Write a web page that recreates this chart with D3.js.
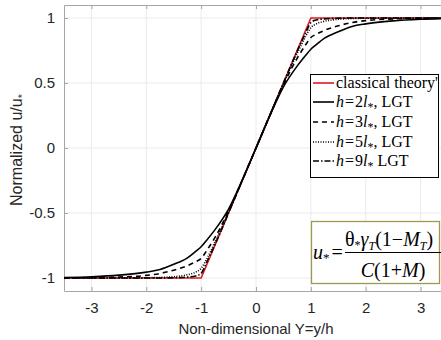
<!DOCTYPE html>
<html>
<head>
<meta charset="utf-8">
<script src="https://cdn.jsdelivr.net/npm/d3@7"></script>
<style>
  body { margin: 0; background: #fff; }
  svg { display: block; }
</style>
</head>
<body>
<div id="chart"></div>
<script>
// values
var Yvals = [-3.5,-3,-2.5,-2,-1.75,-1.5,-1.25,-1.1,-1,-0.9,-0.75,-0.5,-0.25,0,0.25,0.5,0.75,0.9,1,1.1,1.25,1.5,1.75,2,2.5,3,3.5];
var h2 = [-0.996,-0.99,-0.978,-0.955,-0.935,-0.895,-0.845,-0.795,-0.76,-0.71,-0.63,-0.47,-0.245,0,0.245,0.47,0.63,0.71,0.76,0.795,0.845,0.895,0.935,0.955,0.978,0.99,0.996];
var h3 = [-1,-0.998,-0.993,-0.98,-0.965,-0.94,-0.905,-0.875,-0.85,-0.79,-0.69,-0.485,-0.248,0,0.248,0.485,0.69,0.79,0.85,0.875,0.905,0.94,0.965,0.98,0.993,0.998,1];
var h5 = [-1,-1,-1,-0.998,-0.996,-0.99,-0.975,-0.955,-0.925,-0.855,-0.725,-0.495,-0.25,0,0.25,0.495,0.725,0.855,0.925,0.955,0.975,0.99,0.996,0.998,1,1,1];
var h9 = [-1,-1,-1,-1,-1,-0.998,-0.993,-0.985,-0.965,-0.88,-0.745,-0.5,-0.25,0,0.25,0.5,0.745,0.88,0.965,0.985,0.993,0.998,1,1,1,1,1];
var classicalY = [-3.5,-1,1,3.5];
var classicalU = [-1,-1,1,1];
var xTicks = [-3,-2,-1,0,1,2,3];
var yTicks = [-1,-0.5,0,0.5,1];

var W = 441, H = 340;
var mLeft = 64, mRight = 448, mTop = 5, mBottom = 291;

var svg = d3.select("#chart").append("svg")
            .attr("width", W)
            .attr("height", H);

var x = d3.scaleLinear().domain([-3.5, 3.5]).range([mLeft, mRight]);
var y = d3.scaleLinear().domain([-1.1, 1.1]).range([mBottom, mTop]);

// grid
svg.append("g").selectAll("line").data(xTicks).enter().append("line")
   .attr("x1", function(d) { return x(d); }).attr("x2", function(d) { return x(d); })
   .attr("y1", mTop).attr("y2", mBottom)
   .attr("stroke", "#ebebeb").attr("stroke-width", 1);
svg.append("g").selectAll("line").data(yTicks).enter().append("line")
   .attr("x1", mLeft).attr("x2", mRight)
   .attr("y1", function(d) { return y(d); }).attr("y2", function(d) { return y(d); })
   .attr("stroke", "#ebebeb").attr("stroke-width", 1);

// axes (ticks inside, like matlab)
var axisColor = "#a6a6a6";
var fmt = function(d) { return String(d); };
var xAxis = svg.append("g")
   .attr("transform", "translate(0," + mBottom + ")")
   .call(d3.axisBottom(x).tickValues(xTicks).tickSizeInner(-4).tickSizeOuter(0).tickPadding(11).tickFormat(fmt));
var xTop = svg.append("g")
   .attr("transform", "translate(0," + mTop + ")")
   .call(d3.axisTop(x).tickValues(xTicks).tickSizeInner(-4).tickSizeOuter(0).tickFormat(""));
var yAxis = svg.append("g")
   .attr("transform", "translate(" + mLeft + ",0)")
   .call(d3.axisLeft(y).tickValues(yTicks).tickSizeInner(-4).tickSizeOuter(0).tickPadding(9).tickFormat(fmt));

[xAxis, xTop, yAxis].forEach(function(g) {
  g.select(".domain").attr("stroke", axisColor);
  g.selectAll(".tick line").attr("stroke", axisColor);
  g.selectAll(".tick text")
   .attr("fill", "#262626")
   .style("font-family", "Liberation Sans, Arial, sans-serif")
   .style("font-size", "15px");
});

// axis labels
svg.append("text")
   .attr("x", 256).attr("y", 334)
   .style("text-anchor", "middle")
   .style("font-family", "Liberation Sans, Arial, sans-serif")
   .style("font-size", "15px")
   .attr("fill", "#262626")
   .text("Non-dimensional Y=y/h");

var yl = svg.append("text")
   .attr("transform", "translate(22,150) rotate(-90)")
   .style("text-anchor", "middle")
   .style("font-family", "Liberation Sans, Arial, sans-serif")
   .style("font-size", "16px")
   .attr("fill", "#262626");
yl.append("tspan").text("Normalized u/u");
yl.append("tspan").attr("dy", 4).style("font-size", "11px").text("*");

// curves
svg.append("clipPath").attr("id", "plotclip")
   .append("rect").attr("x", mLeft).attr("y", mTop)
   .attr("width", mRight - mLeft).attr("height", mBottom - mTop);

var plot = svg.append("g").attr("clip-path", "url(#plotclip)");

var series = [
  {name: "classical", xs: classicalY, ys: classicalU, color: "#e01a22", dash: null, curve: d3.curveLinear},
  {name: "h2", xs: Yvals, ys: h2, color: "#000", dash: null},
  {name: "h3", xs: Yvals, ys: h3, color: "#000", dash: "5,4"},
  {name: "h5", xs: Yvals, ys: h5, color: "#000", dash: "1,1.5"},
  {name: "h9", xs: Yvals, ys: h9, color: "#000", dash: "6,2,1.5,2"}
];

series.forEach(function(s) {
  var pts = s.xs.map(function(v, i) { return [v, s.ys[i]]; });
  var ln = d3.line().curve(s.curve || d3.curveMonotoneX)
     .x(function(d) { return x(d[0]); })
     .y(function(d) { return y(d[1]); });
  plot.append("path")
     .datum(pts)
     .attr("d", ln)
     .attr("fill", "none")
     .attr("stroke", s.color)
     .attr("stroke-width", 1.6)
     .attr("stroke-dasharray", s.dash);
});

// legend
var serif = "Liberation Serif, Times New Roman, serif";
var leg = svg.append("g");
leg.append("rect")
   .attr("x", 310.5).attr("y", 74.5).attr("width", 128).attr("height", 103)
   .attr("fill", "#fff").attr("stroke", "#000").attr("stroke-width", 1);

var legRows = [
  {y: 83, color: "#e01a22", dash: null, label: "classical"},
  {y: 102, color: "#000", dash: null, label: "2"},
  {y: 122, color: "#000", dash: "5,4", label: "3"},
  {y: 142, color: "#000", dash: "1,1.5", label: "5"},
  {y: 161, color: "#000", dash: "6,2,1.5,2", label: "9"}
];

legRows.forEach(function(r) {
  leg.append("line")
     .attr("x1", 313).attr("x2", 334)
     .attr("y1", r.y).attr("y2", r.y)
     .attr("stroke", r.color).attr("stroke-width", 1.6)
     .attr("stroke-dasharray", r.dash);
  var t = leg.append("text")
     .attr("x", 336).attr("y", r.y + 5)
     .style("font-family", serif)
     .style("font-size", "16px")
     .attr("fill", "#000");
  if (r.label === "classical") {
    t.text("classical theory'");
  } else {
    t.append("tspan").style("font-style", "italic").text("h");
    t.append("tspan").attr("dx", 1).text("=");
    t.append("tspan").attr("dx", 1).text(r.label);
    t.append("tspan").style("font-style", "italic").text("l");
    t.append("tspan").attr("dy", 4).style("font-size", "12px").text("*");
    t.append("tspan").attr("dy", -4).text(r.label === "9" ? " LGT" : ", LGT");
  }
});

// formula box
var fb = svg.append("g");
fb.append("rect")
   .attr("x", 311.5).attr("y", 221.5).attr("width", 128).attr("height", 62)
   .attr("fill", "#fff").attr("stroke", "#9c9a52").attr("stroke-width", 1.3);

var fu = fb.append("text")
   .attr("x", 313).attr("y", 259)
   .style("font-family", serif).style("font-size", "20px").attr("fill", "#000");
fu.append("tspan").style("font-style", "italic").text("u");
fu.append("tspan").attr("dy", 3).style("font-size", "13px").text("*");
fu.append("tspan").attr("dy", -3).attr("dx", 2).text("=");

fb.append("line")
   .attr("x1", 345).attr("x2", 441).attr("y1", 252.5).attr("y2", 252.5)
   .attr("stroke", "#000").attr("stroke-width", 1);

var num = fb.append("text")
   .attr("x", 345).attr("y", 246)
   .style("font-family", serif).style("font-size", "20px").attr("fill", "#000");
num.append("tspan").text("θ");
num.append("tspan").attr("dy", 3).style("font-size", "12px").text("*");
num.append("tspan").attr("dy", -3).style("font-style", "italic").text("γ");
num.append("tspan").attr("dy", 4).style("font-size", "12px").style("font-style", "italic").text("T");
num.append("tspan").attr("dy", -4).text("(1−");
num.append("tspan").style("font-style", "italic").text("M");
num.append("tspan").attr("dy", 4).style("font-size", "12px").style("font-style", "italic").text("T");
num.append("tspan").attr("dy", -4).text(")");

var den = fb.append("text")
   .attr("x", 393).attr("y", 277)
   .style("text-anchor", "middle")
   .style("font-family", serif).style("font-size", "20px").attr("fill", "#000");
den.append("tspan").style("font-style", "italic").text("C");
den.append("tspan").text("(1+");
den.append("tspan").style("font-style", "italic").text("M");
den.append("tspan").text(")");
</script>
</body>
</html>
